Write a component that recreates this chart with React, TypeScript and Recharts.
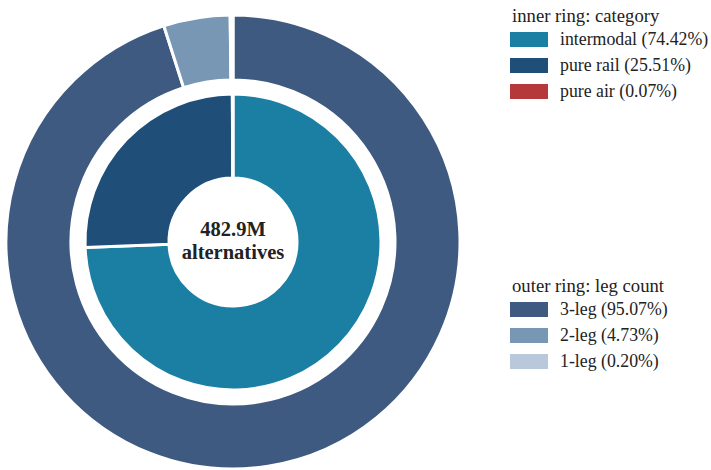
import React from "react";
import { PieChart, Pie, Cell } from "recharts";

const innerCategories = ["intermodal", "pure rail", "pure air"];
const innerValues = [74.42, 25.51, 0.07];
const innerColors = ["#1a7fa3", "#1f4e79", "#b5393b"];

const outerCategories = ["3-leg", "2-leg", "1-leg"];
const outerValues = [95.07, 4.73, 0.2];
const outerColors = ["#3e5a80", "#7897b5", "#b9c8da"];

const centerLines = ["482.9M", "alternatives"];
const innerTitle = "inner ring: category";
const outerTitle = "outer ring: leg count";

const innerData = innerCategories.map((name, i) => ({ name, value: innerValues[i] }));
const outerData = outerCategories.map((name, i) => ({ name, value: outerValues[i] }));

const FONT = "'Liberation Serif', 'Times New Roman', serif";

function LegendBlock({ top, title, names, values, colors }: any) {
  return (
    <div style={{ position: "absolute", left: 510, top, fontFamily: FONT, color: "#222" }}>
      <div style={{ fontSize: 18.7, lineHeight: "20px", marginLeft: 2 }}>{title}</div>
      {names.map((n: string, i: number) => (
        <div key={n} style={{ display: "flex", alignItems: "center", height: 26 }}>
          <div style={{ width: 38, height: 15, background: colors[i] }} />
          <div style={{ marginLeft: 12, fontSize: 17.8, whiteSpace: "nowrap" }}>
            {n} ({values[i].toFixed(2)}%)
          </div>
        </div>
      ))}
    </div>
  );
}

export default function App() {
  return (
    <div style={{ position: "absolute", left: 0, top: 0, width: 711, height: 470, background: "#fff" }}>
      <PieChart width={711} height={470} margin={{ top: 0, right: 0, bottom: 0, left: 0 }}>
        <Pie
          data={outerData}
          dataKey="value"
          cx={233}
          cy={242}
          innerRadius={162}
          outerRadius={227}
          startAngle={90}
          endAngle={-270}
          stroke="#fff"
          strokeWidth={3}
          isAnimationActive={false}
        >
          {outerData.map((d, i) => (
            <Cell key={d.name} fill={outerColors[i]} />
          ))}
        </Pie>
        <Pie
          data={innerData}
          dataKey="value"
          cx={233}
          cy={242}
          innerRadius={64}
          outerRadius={148}
          startAngle={90}
          endAngle={-270}
          stroke="#fff"
          strokeWidth={3}
          isAnimationActive={false}
        >
          {innerData.map((d, i) => (
            <Cell key={d.name} fill={innerColors[i]} />
          ))}
        </Pie>
        <text x={233} y={236} textAnchor="middle" fontFamily={FONT} fontWeight="bold" fontSize={20.5} fill="#222">
          {centerLines[0]}
        </text>
        <text x={233} y={259} textAnchor="middle" fontFamily={FONT} fontWeight="bold" fontSize={20.5} fill="#222">
          {centerLines[1]}
        </text>
      </PieChart>
      <LegendBlock top={6} title={innerTitle} names={innerCategories} values={innerValues} colors={innerColors} />
      <LegendBlock top={276} title={outerTitle} names={outerCategories} values={outerValues} colors={outerColors} />
    </div>
  );
}
